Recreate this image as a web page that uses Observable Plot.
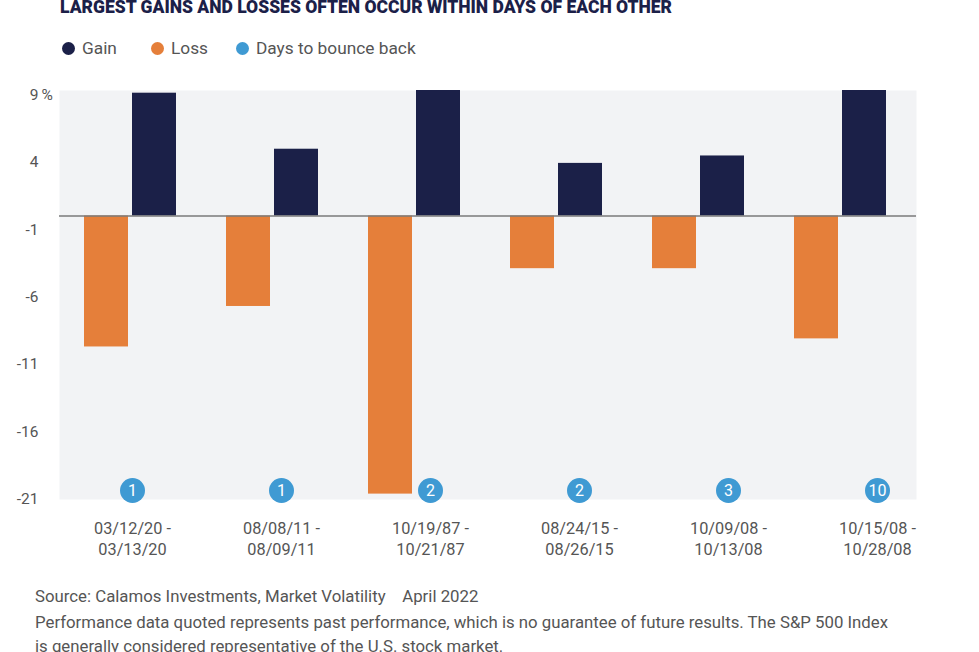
<!DOCTYPE html>
<html>
<head>
<meta charset="utf-8">
<script src="https://cdn.jsdelivr.net/npm/d3@7"></script>
<script src="https://cdn.jsdelivr.net/npm/@observablehq/plot@0.6"></script>
<style>
  html, body { margin: 0; padding: 0; background: #fff; }
  body { width: 979px; height: 652px; overflow: hidden; position: relative; font-family: Roboto, "Noto Sans", sans-serif; }
  #title { position: absolute; left: 60px; top: -2px; font-size: 17.5px; font-weight: 900; color: #1b2048; white-space: nowrap; line-height: 18px; }
  .leg { position: absolute; top: 37px; font-size: 17.3px; color: #555; white-space: nowrap; line-height: 22px; }
  .leg .sw { display: inline-block; width: 13px; height: 13px; border-radius: 50%; vertical-align: -1px; margin-right: 7px; }
  #chart { position: absolute; left: 0; top: 70px; width: 979px; height: 495px; }
  #chart svg { position: absolute; left: 0; top: 0; }
  .foot { position: absolute; left: 35px; font-size: 16.8px; color: #555; white-space: nowrap; line-height: 20px; }
</style>
</head>
<body>
<div id="title">LARGEST GAINS AND LOSSES OFTEN OCCUR WITHIN DAYS OF EACH OTHER</div>
<div id="legend"></div>
<div id="chart"></div>
<div class="foot" style="top:586px">Source: Calamos Investments, Market Volatility &nbsp;&nbsp; April 2022</div>
<div class="foot" style="top:612px">Performance data quoted represents past performance, which is no guarantee of future results. The S&amp;P 500 Index</div>
<div class="foot" style="top:636px">is generally considered representative of the U.S. stock market.</div>
<script>
const periods = ["03/12/20 -\n03/13/20", "08/08/11 -\n08/09/11", "10/19/87 -\n10/21/87", "08/24/15 -\n08/26/15", "10/09/08 -\n10/13/08", "10/15/08 -\n10/28/08"];
const losses = [-9.7, -6.7, -20.6, -3.9, -3.9, -9.1];
const gains = [9.1, 4.95, 9.3, 3.9, 4.45, 9.3];
const daysToBounce = [1, 1, 2, 2, 3, 10];
const yTicks = [9, 4, -1, -6, -11, -16, -21];
const seriesNames = ["Gain", "Loss", "Days to bounce back"];
const seriesColors = ["#1b2048", "#e57f3a", "#3f9ad3"];

const data = periods.map((p, i) => ({period: p, loss: losses[i], gain: gains[i], days: daysToBounce[i]}));

// legend
const legendLeft = [62, 151, 236];
const legend = document.getElementById("legend");
seriesNames.forEach((name, i) => {
  const d = document.createElement("div");
  d.className = "leg";
  d.style.left = legendLeft[i] + "px";
  d.innerHTML = `<span class="sw" style="background:${seriesColors[i]}"></span>${name}`;
  legend.appendChild(d);
});

const yDomain = [-21, 9.3];
const common = {width: 979, height: 495, marginTop: 20, marginBottom: 66,
  style: {fontFamily: "Roboto, sans-serif", background: "transparent", overflow: "visible"}};

const plotA = Plot.plot({
  ...common,
  marginLeft: 59, marginRight: 63,
  x: {type: "band", domain: periods, paddingInner: 0.355, paddingOuter: 0.1845, align: 0.46, axis: null},
  y: {domain: yDomain, axis: null},
  marks: [
    Plot.frame({fill: "#f2f3f5", stroke: null}),
    Plot.barY(data, {x: "period", y: "loss", fill: seriesColors[1], insetRight: 48}),
    Plot.barY(data, {x: "period", y: "gain", fill: seriesColors[0], insetLeft: 48}),
    Plot.ruleY([0], {stroke: "#7a7a7a", strokeWidth: 1.5}),
    Plot.axisY({ticks: yTicks, tickSize: 0, tickPadding: 21, fontSize: 15.5, color: "#555", tickFormat: d => String(d)}),
    Plot.text([yTicks[0]], {y: d => d, text: () => "%", frameAnchor: "left", dx: -18, textAnchor: "start", fontSize: 15.5, fill: "#555"})
  ]
});

const plotB = Plot.plot({
  ...common,
  marginLeft: 131, marginRight: 102,
  x: {type: "point", domain: periods, padding: 0, label: null},
  y: {domain: yDomain, axis: null},
  marks: [
    Plot.dot(data, {x: "period", frameAnchor: "bottom", dy: -9, r: 12.5, fill: seriesColors[2]}),
    Plot.text(data, {x: "period", frameAnchor: "bottom", dy: -9, lineAnchor: "middle", text: "days", fill: "white", fontSize: 16}),
    Plot.axisX({tickSize: 0, tickPadding: 19, fontSize: 16.3, lineHeight: 1.3, color: "#555", lineAnchor: "top", label: null})
  ]
});
plotB.style.pointerEvents = "none";

const chart = document.getElementById("chart");
chart.appendChild(plotA);
chart.appendChild(plotB);
</script>
</body>
</html>
